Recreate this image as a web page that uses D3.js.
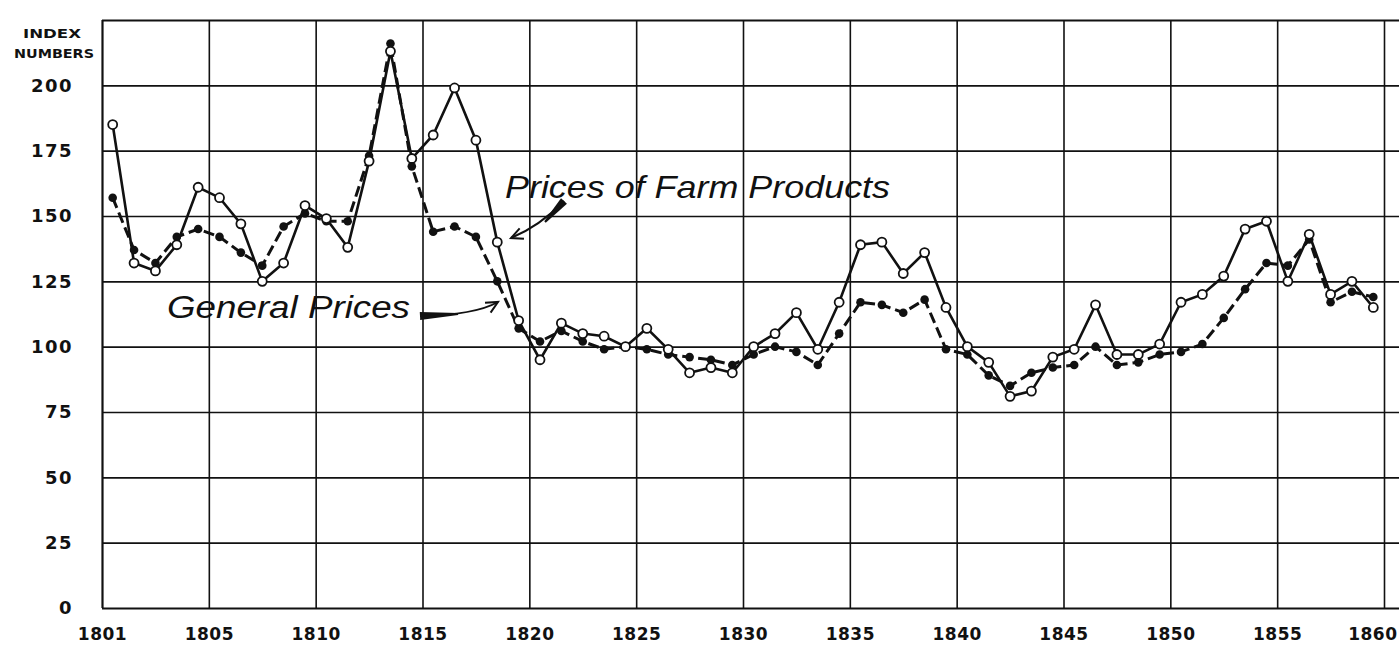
<!DOCTYPE html>
<html><head><meta charset="utf-8">
<script src="https://cdn.jsdelivr.net/npm/d3@7"></script>
<style>body{margin:0;background:#fff}svg{display:block}</style>
</head><body><svg id="c" width="1399" height="670"></svg>
<script>
// ---- data ----
const years = [1801,1802,1803,1804,1805,1806,1807,1808,1809,1810,
  1811,1812,1813,1814,1815,1816,1817,1818,1819,1820,
  1821,1822,1823,1824,1825,1826,1827,1828,1829,1830,
  1831,1832,1833,1834,1835,1836,1837,1838,1839,1840,
  1841,1842,1843,1844,1845,1846,1847,1848,1849,1850,
  1851,1852,1853,1854,1855,1856,1857,1858,1859,1860];
const farmProducts = [185,132,129,139,161,157,147,125,132,154,
  149,138,171,213,172,181,199,179,140,110,
  95,109,105,104,100,107,99,90,92,90,
  100,105,113,99,117,139,140,128,136,115,
  100,94,81,83,96,99,116,97,97,101,
  117,120,127,145,148,125,143,120,125,115];
const generalPrices = [157,137,132,142,145,142,136,131,146,151,
  148,148,173,216,169,144,146,142,125,107,
  102,106,102,99,100,99,97,96,95,93,
  97,100,98,93,105,117,116,113,118,99,
  97,89,85,90,92,93,100,93,94,97,
  98,101,111,122,132,131,141,117,121,119];
const yTicks = [0,25,50,75,100,125,150,175,200];
const yGrid = [0,25,50,75,100,125,150,175,200,225];
const xGridYears = [1800,1805,1810,1815,1820,1825,1830,1835,1840,1845,1850,1855,1860];
const xTickLabels = ["1801","1805","1810","1815","1820","1825","1830","1835","1840","1845","1850","1855","1860"];

// ---- layout ----
const W = 1399, H = 670;
const L = 102, R = 1384, T = 20, B = 608;
const svg = d3.select("#c");
const x = d3.scaleLinear().domain([1800,1860]).range([L,R]);
const y = d3.scaleLinear().domain([0,225]).range([B,T]);

// grid: horizontal lines run to the right edge
const gH = svg.append("g").attr("transform",`translate(${L},0)`)
  .call(d3.axisRight(y).tickValues(yGrid).tickSize(W-L).tickFormat(""));
gH.select(".domain").remove();
gH.selectAll("line").attr("stroke","#111").attr("stroke-width",d=>(d===0||d===225)?2.2:1.6);

const gV = svg.append("g").attr("transform",`translate(0,${B})`)
  .call(d3.axisTop(x).tickValues(xGridYears).tickSize(B-T).tickFormat(""));
gV.select(".domain").remove();
gV.selectAll("line").attr("stroke","#111").attr("stroke-width",d=>(d===1800)?2.2:1.6);

// y labels
const gY = svg.append("g").attr("transform",`translate(${L},0)`)
  .call(d3.axisLeft(y).tickValues(yTicks).tickSize(0).tickPadding(29));
gY.select(".domain").remove();
gY.selectAll("text").attr("font-family","DejaVu Sans").attr("font-weight","bold")
  .attr("font-size",18).attr("letter-spacing","1.5px").attr("fill","#111");

// x labels
const gX = svg.append("g").attr("transform",`translate(0,${B})`)
  .call(d3.axisBottom(x).tickValues(xGridYears).tickSize(0).tickPadding(20)
    .tickFormat((d,i)=>xTickLabels[i]));
gX.select(".domain").remove();
gX.selectAll("text").attr("font-family","DejaVu Sans").attr("font-weight","bold")
  .attr("font-size",17).attr("letter-spacing","0.5px").attr("fill","#111");
gX.selectAll(".tick").filter(d=>d===1860).select("text")
  .attr("text-anchor","end").attr("x",W-2-R);

// axis title
svg.append("text").attr("x",52).attr("y",38).attr("text-anchor","middle")
  .attr("font-family","DejaVu Sans").attr("font-weight","bold").attr("font-size",12)
  .attr("textLength",58).attr("lengthAdjust","spacingAndGlyphs")
  .attr("fill","#111").text("INDEX");
svg.append("text").attr("x",54).attr("y",58).attr("text-anchor","middle")
  .attr("font-family","DejaVu Sans").attr("font-weight","bold").attr("font-size",12)
  .attr("textLength",80).attr("lengthAdjust","spacingAndGlyphs")
  .attr("fill","#111").text("NUMBERS");

// series
const farm = years.map((yr,i)=>({yr, v:farmProducts[i]}));
const gen = years.map((yr,i)=>({yr, v:generalPrices[i]}));
const line = d3.line().x(d=>x(d.yr-0.5)).y(d=>y(d.v));

svg.append("path").datum(gen).attr("d",line).attr("fill","none")
  .attr("stroke","#111").attr("stroke-width",3).attr("stroke-dasharray","11,5");
svg.append("path").datum(farm).attr("d",line).attr("fill","none")
  .attr("stroke","#111").attr("stroke-width",2.6);

svg.append("g").selectAll("circle").data(gen).join("circle")
  .attr("cx",d=>x(d.yr-0.5)).attr("cy",d=>y(d.v)).attr("r",4.3).attr("fill","#111");
svg.append("g").selectAll("circle").data(farm).join("circle")
  .attr("cx",d=>x(d.yr-0.5)).attr("cy",d=>y(d.v)).attr("r",4.5)
  .attr("fill","#fff").attr("stroke","#111").attr("stroke-width",1.8);

// annotations
function label(txt, x0, yb, len, size){
  svg.append("text").attr("x",x0).attr("y",yb)
    .attr("font-family","Liberation Sans").attr("font-style","italic")
    .attr("font-size",size).attr("fill","#111")
    .attr("textLength",len).attr("lengthAdjust","spacingAndGlyphs").text(txt);
}
label("Prices of Farm Products", 505, 198, 385, 32);
label("General Prices", 167, 318, 243, 31);

function arrow(p0, ctrl, tip, tailEnd, w){
  svg.append("path").attr("d",`M${p0[0]},${p0[1]} Q${ctrl[0]},${ctrl[1]} ${tip[0]},${tip[1]}`)
    .attr("fill","none").attr("stroke","#111").attr("stroke-width",2);
  const dx = tailEnd[0]-p0[0], dy = tailEnd[1]-p0[1], n = Math.hypot(dx,dy);
  const nx = -dy/n, ny = dx/n;
  svg.append("path").attr("d",
    `M${p0[0]+nx*w},${p0[1]+ny*w} L${tailEnd[0]+nx},${tailEnd[1]+ny} L${tailEnd[0]-nx},${tailEnd[1]-ny} L${p0[0]-nx*w},${p0[1]-ny*w} Z`)
    .attr("fill","#111");
  const ax = tip[0]-ctrl[0], ay = tip[1]-ctrl[1], an = Math.hypot(ax,ay);
  const ux = ax/an, uy = ay/an, hl = 13, sp = 0.45;
  const b1 = [tip[0]-hl*(ux*Math.cos(sp)-uy*Math.sin(sp)), tip[1]-hl*(uy*Math.cos(sp)+ux*Math.sin(sp))];
  const b2 = [tip[0]-hl*(ux*Math.cos(-sp)-uy*Math.sin(-sp)), tip[1]-hl*(uy*Math.cos(-sp)+ux*Math.sin(-sp))];
  svg.append("path").attr("d",`M${b1[0]},${b1[1]} L${tip[0]},${tip[1]} L${b2[0]},${b2[1]}`)
    .attr("fill","none").attr("stroke","#111").attr("stroke-width",2);
}
arrow([564,201],[540,226],[511,238],[545,222],4);
arrow([420,316],[475,315],[498,302],[458,314],4);
</script></body></html>
